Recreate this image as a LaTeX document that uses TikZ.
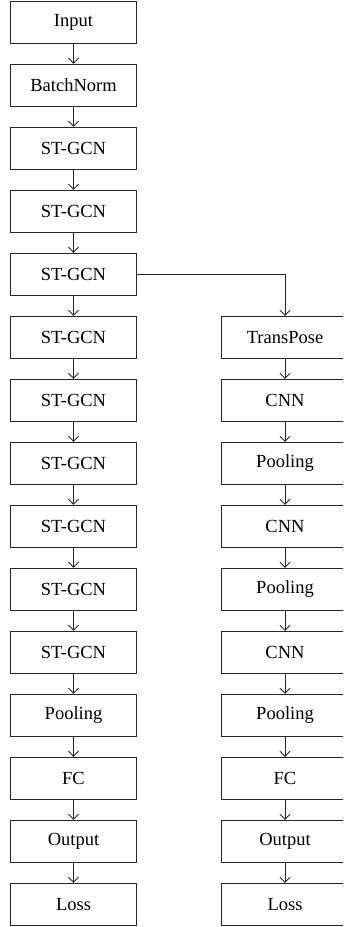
\documentclass[tikz,border=0pt]{standalone}
\usepackage{fontspec}
\setmainfont{Liberation Serif}
\usetikzlibrary{arrows.meta}
\begin{document}
\begin{tikzpicture}[x=1pt,y=-1pt,
  blk/.style={draw=black!85,line width=1pt,minimum width=126.4pt,minimum height=42pt,inner sep=0pt,font=\fontsize{18.5}{20}\selectfont},
  arr/.style={draw=black!85,line width=0.9pt,-{Straight Barb[length=5pt,width=10pt,line width=0.9pt]}}]
\useasboundingbox (0,0) rectangle (343,927);
\clip (0,0) rectangle (343,927);
% left column
\foreach \i/\t in {0/Input,1/BatchNorm,2/ST-GCN,3/ST-GCN,4/ST-GCN,5/ST-GCN,6/ST-GCN,7/ST-GCN,8/ST-GCN,9/ST-GCN,10/ST-GCN,11/Pooling,12/FC,13/Output,14/Loss}
  \node[blk] (L\i) at (73.5,{22.3+63*\i}) {\t};
% right column
\foreach \i/\t in {5/TransPose,6/CNN,7/Pooling,8/CNN,9/Pooling,10/CNN,11/Pooling,12/FC,13/Output,14/Loss}
  \node[blk] (R\i) at (285,{22.3+63*\i}) {\t};
\foreach \i [evaluate=\i as \j using int(\i+1)] in {0,...,13}
  \draw[arr] (L\i.south) -- (L\j.north);
\foreach \i [evaluate=\i as \j using int(\i+1)] in {5,...,13}
  \draw[arr] (R\i.south) -- (R\j.north);
\draw[arr] (L4.east) -| (R5.north);
\end{tikzpicture}
\end{document}
